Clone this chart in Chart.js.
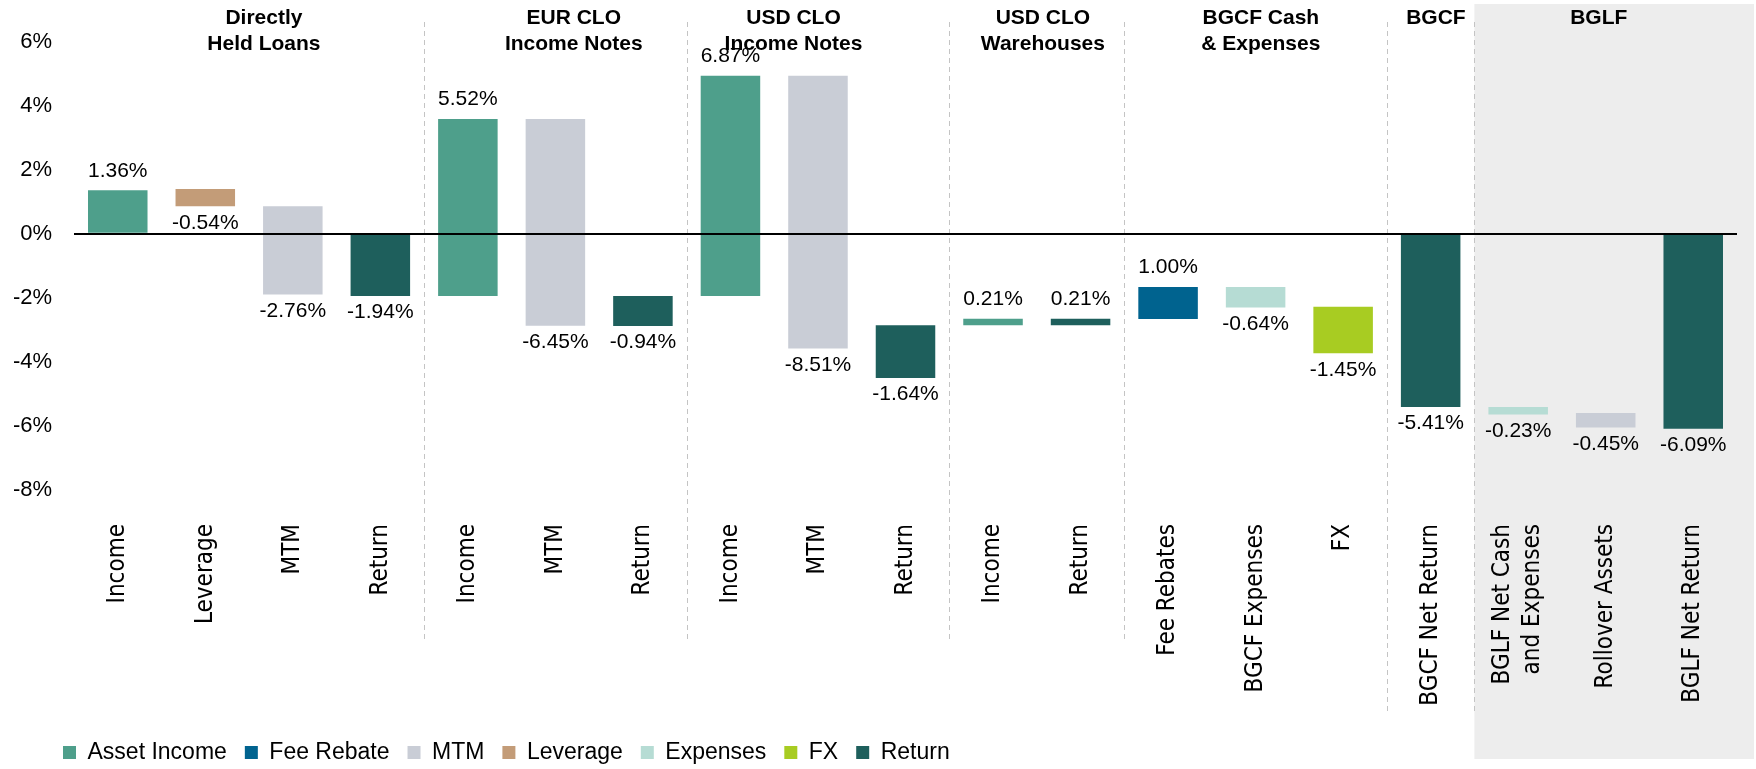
<!DOCTYPE html>
<html>
<head>
<meta charset="utf-8">
<script src="https://cdn.jsdelivr.net/npm/chart.js@4.4.1/dist/chart.umd.min.js"></script>
<style>
  body { margin: 0; background: #fff; }
</style>
</head>
<body>
<canvas id="chartAtribuicao" width="1756" height="769"></canvas>
<script>
// Dados
const categories = [
  "Income", "Leverage", "MTM", "Return",
  "Income", "MTM", "Return",
  "Income", "MTM", "Return",
  "Income", "Return",
  "Fee Rebates", "BGCF Expenses", "FX",
  "BGCF Net Return",
  ["BGLF Net Cash", "and Expenses"], "Rollover Assets", "BGLF Net Return"
];
const barKinds = [
  "Asset Income", "Leverage", "MTM", "Return",
  "Asset Income", "MTM", "Return",
  "Asset Income", "MTM", "Return",
  "Asset Income", "Return",
  "Fee Rebate", "Expenses", "FX",
  "Return",
  "Expenses", "MTM", "Return"
];
// contribution of each step (label values)
const changes = [1.36, -0.54, -2.76, -1.94, 5.52, -6.45, -0.94, 6.87, -8.51, -1.64, 0.21, 0.21, 1.00, -0.64, -1.45, -5.41, -0.23, -0.45, -6.09];
// where each floating bar starts
const starts = [0, 1.40, 0.86, 0, -1.94, 3.58, -1.94, -1.94, 4.93, -2.86, -2.86, -2.86, -2.66, -1.66, -2.28, 0, -5.41, -5.60, 0];
const yTicks = [6, 4, 2, 0, -2, -4, -6, -8];

const groupTitles = [
  ["Directly", "Held Loans"],
  ["EUR CLO", "Income Notes"],
  ["USD CLO", "Income Notes"],
  ["USD CLO", "Warehouses"],
  ["BGCF Cash", "& Expenses"],
  ["BGCF"],
  ["BGLF"]
];
const groupTitleAt = [1.67, 5.21, 7.72, 10.57, 13.06, 15.06, 16.92];
const groupBreaks = [3, 6, 9, 11, 14, 15];

const legendKinds = ["Asset Income", "Fee Rebate", "MTM", "Leverage", "Expenses", "FX", "Return"];
const kindColors = {
  "Asset Income": "#4e9f8b",
  "Fee Rebate": "#00638f",
  "MTM": "#c9cdd6",
  "Leverage": "#c39c78",
  "Expenses": "#b6dcd4",
  "FX": "#a8cc22",
  "Return": "#1e5f5c"
};

const FONT = '"Liberation Sans", Arial, sans-serif';
const NARROW = '"DejaVu Sans Condensed", "DejaVu Sans", sans-serif';
const X_FONT_SIZE = 24;
const X_LINE_HEIGHT = 1.25;

// Fundo cinza, separadores, rótulos e títulos dos grupos
const decorations = {
  id: "decorations",
  afterLayout(chart) {
    chart.legend.left = 45;
    chart.legend.top = 723;
  },
  beforeDraw(chart) {
    const { ctx, scales: { x } } = chart;
    // centrar rótulos de duas linhas
    x.getLabelItems().forEach(item => {
      if (Array.isArray(item.label) && !item._centered) {
        item.textOffset -= (item.label.length - 1) * X_FONT_SIZE * X_LINE_HEIGHT / 2;
        item._centered = true;
      }
    });
    const left = (x.getPixelForValue(15) + x.getPixelForValue(16)) / 2;
    ctx.save();
    ctx.fillStyle = "#ededed";
    ctx.fillRect(left, 4, chart.width - 2 - left, 755);
    ctx.restore();
  },
  beforeDatasetsDraw(chart) {
    const { ctx, scales: { x } } = chart;
    ctx.save();
    ctx.strokeStyle = "#c4c4c4";
    ctx.lineWidth = 1;
    ctx.setLineDash([5, 4]);
    groupBreaks.forEach(i => {
      const px = Math.round((x.getPixelForValue(i) + x.getPixelForValue(i + 1)) / 2) + 0.5;
      ctx.beginPath();
      ctx.moveTo(px, 22);
      ctx.lineTo(px, i >= 14 ? 713 : 640);
      ctx.stroke();
    });
    ctx.restore();
  },
  afterDatasetsDraw(chart) {
    const { ctx, scales: { x, y } } = chart;
    ctx.save();
    ctx.font = "21px " + FONT;
    ctx.fillStyle = "#000";
    ctx.textAlign = "center";
    changes.forEach((v, i) => {
      const px = x.getPixelForValue(i);
      const a = y.getPixelForValue(starts[i]);
      const b = y.getPixelForValue(starts[i] + v);
      const label = v.toFixed(2) + "%";
      if (v >= 0) {
        ctx.textBaseline = "bottom";
        ctx.fillText(label, px, Math.min(a, b) - 9);
      } else {
        ctx.textBaseline = "top";
        ctx.fillText(label, px, Math.max(a, b) + 6);
      }
    });
    ctx.restore();
  },
  afterDraw(chart) {
    const { ctx, scales: { x } } = chart;
    ctx.save();
    ctx.font = "bold 21px " + FONT;
    ctx.fillStyle = "#000";
    ctx.textAlign = "center";
    ctx.textBaseline = "middle";
    groupTitles.forEach((lines, g) => {
      const px = x.getPixelForValue(groupTitleAt[g]);
      lines.forEach((t, k) => ctx.fillText(t, px, 18 + k * 26));
    });
    ctx.restore();
  }
};

const ctx = document.getElementById("chartAtribuicao");

new Chart(ctx, {
  type: "bar",
  data: {
    labels: categories,
    datasets: [
      {
        data: starts.map((s, i) => [s, +(s + changes[i]).toFixed(2)]),
        backgroundColor: barKinds.map(k => kindColors[k]),
        borderWidth: 0,
        barPercentage: 0.68,
        categoryPercentage: 1
      }
    ]
  },
  options: {
    responsive: false,
    animation: false,
    layout: { padding: { top: 28, right: 19, left: 0, bottom: 0 } },
    plugins: {
      legend: {
        position: "bottom",
        align: "start",
        labels: {
          boxWidth: 13,
          boxHeight: 13,
          padding: 18,
          color: "#000",
          font: { family: FONT, size: 23 },
          generateLabels: () => legendKinds.map(k => ({
            text: k,
            fillStyle: kindColors[k],
            strokeStyle: kindColors[k],
            lineWidth: 0,
            hidden: false
          }))
        }
      },
      tooltip: { enabled: true }
    },
    scales: {
      x: {
        grid: { display: false, drawTicks: false },
        border: { display: false },
        ticks: {
          minRotation: 90,
          maxRotation: 90,
          autoSkip: false,
          padding: 2,
          color: "#000",
          font: { family: NARROW, size: X_FONT_SIZE, lineHeight: X_LINE_HEIGHT }
        },
        afterFit(scale) { scale.height = 196; }
      },
      y: {
        min: -9,
        max: 6.2,
        afterBuildTicks(scale) { scale.ticks = yTicks.map(v => ({ value: v })); },
        afterFit(scale) { scale.width = 74; },
        grid: {
          color: c => (c.tick && c.tick.value === 0 ? "#000" : "rgba(0,0,0,0)"),
          lineWidth: 2,
          drawTicks: false,
          z: 1
        },
        border: { display: false },
        ticks: {
          padding: 22,
          color: "#000",
          font: { family: FONT, size: 22 },
          callback: v => v + "%"
        }
      }
    }
  },
  plugins: [decorations]
});
</script>
</body>
</html>
